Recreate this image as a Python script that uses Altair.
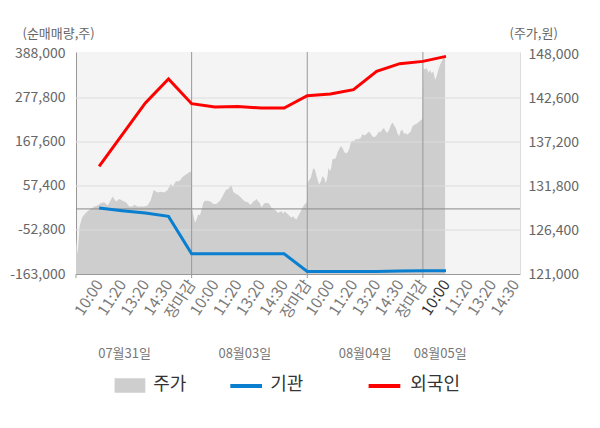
import altair as alt
import pandas as pd

# ---------------- data ----------------
price_t = [0.000,0.014,0.031,0.052,0.072,0.100,0.130,0.158,0.187,0.216,
           0.245,0.273,0.303,0.316,0.346,0.374,0.403,0.432,0.461,0.489,
           0.504,0.532,0.562,0.590,0.619,0.648,0.671,0.705,0.735,0.763,
           0.792,0.821,0.835,0.864,0.893,0.921,0.951,0.979,0.995,
           1.005,1.014,1.029,1.042,1.057,1.072,1.086,1.100,1.115,1.143,
           1.172,1.187,1.215,1.230,1.245,1.258,1.273,1.288,1.302,1.316,
           1.331,1.345,1.360,1.374,1.403,1.417,1.431,1.461,1.489,1.504,
           1.518,1.532,1.547,1.561,1.576,1.590,1.604,1.619,1.634,1.662,
           1.677,1.691,1.720,1.734,1.748,1.763,1.777,1.792,1.806,1.820,
           1.835,1.850,1.863,1.878,1.893,1.907,1.921,1.936,1.950,1.965,
           1.979,1.995,
           2.005,2.016,2.031,2.045,2.054,2.066,2.074,2.088,2.103,2.118,
           2.131,2.146,2.161,2.175,2.183,2.198,2.209,2.218,2.247,2.261,
           2.276,2.290,2.304,2.319,2.334,2.347,2.362,2.377,2.391,2.405,
           2.420,2.434,2.463,2.477,2.492,2.506,2.520,2.535,2.550,2.564,
           2.578,2.593,2.607,2.621,2.636,2.650,2.665,2.679,2.693,2.708,
           2.723,2.736,2.751,2.766,2.780,2.794,2.809,2.823,2.838,2.852,
           2.866,2.881,2.895,2.909,2.924,2.939,2.952,2.967,2.982,2.995,
           3.005,3.019,3.034,3.048,3.062,3.077,3.091,3.105,3.120,3.134,
           3.149,3.163,3.177,3.192]

price_v = [125500,123400,126800,127900,128300,128700,129000,129300,129400,129700,
           129800,129400,130100,130500,129900,130200,130000,129800,129300,129300,
           129500,129300,129300,129300,129400,130100,131300,131000,131100,131000,
           131300,132100,131700,132400,132400,132900,133200,133500,133600,
           128900,128300,127300,127700,128300,128200,128900,129700,130000,130000,
           129800,129600,129600,129800,130000,130300,130700,131100,131400,131400,
           131700,131900,131100,130900,130700,130500,130300,129900,129800,129500,
           129600,129900,130000,130200,129900,129700,129200,129500,129700,129700,
           129500,129100,128900,128700,128500,128600,128700,128400,128700,128500,
           128300,128100,127900,128100,127800,127700,128100,128500,128900,129300,
           129600,129700,
           132200,132500,132800,133600,134000,133800,133400,132600,132000,132400,
           133000,132800,132100,133000,134000,133600,134200,135100,135200,135900,
           136300,136700,136500,136000,135800,135900,136300,137100,137400,137300,
           137600,137500,137700,138200,138000,138100,138300,138500,138200,137900,
           137800,137900,138200,138500,138400,138800,138900,138500,138300,138700,
           139300,139600,139300,138900,138300,137900,138600,138700,138200,138300,
           138100,138300,138500,139100,139300,139400,139500,139700,139900,140000,
           146300,146100,146300,145700,146000,145600,145900,144800,145300,146100,
           146700,147100,147500,147800]

flow_t = [0.2, 0.4, 0.6, 0.8, 1.0, 1.2, 1.4, 1.6, 1.8, 2.0, 2.2, 2.4, 2.6, 2.8, 3.0, 3.2]
foreign_v = [106500, 185900, 265300, 325400, 263500, 255300, 256800, 252800,
             252800, 283600, 287800, 298600, 344400, 363700, 369500, 382000]
inst_v = [2300, -4500, -10200, -18700, -112500, -112500, -112500, -112500,
          -112500, -156500, -156500, -156500, -156500, -155500, -154700, -154700]

left_ticks = [388000, 277800, 167600, 57400, -52800, -163000]
right_ticks = [148000, 142600, 137200, 131800, 126400, 121000]
time_labels = ["10:00", "11:20", "13:20", "14:30", "장마감"]
dates = ["07월31일", "08월03일", "08월04일", "08월05일"]
date_pos = [0.42, 1.46, 2.5, 3.15]
day_bounds = [0, 1, 2, 3]
x_max = 3.84
left_dom = [-163000, 393000]
right_dom = [121000, 148250]
series = ["기관", "외국인"]
series_colors = ["#0a7fcf", "#ff0000"]
legend_labels = ["주가", "기관", "외국인"]
price_color = "#cecece"

FONT = "Noto Sans CJK KR"

# ---------------- frames ----------------
price_df = pd.DataFrame({"t": price_t, "price": price_v})
flow_df = pd.DataFrame({"t": flow_t, series[0]: inst_v, series[1]: foreign_v})

xtick_vals = [round(d + k / 5, 3) for d in day_bounds for k in range(1, 6) if d + k / 5 <= x_max]
label_arr = "[" + ",".join(f"'{s}'" for s in time_labels) + "]"
num_expr = "replace(format(datum.value, ','), '−', '-')"

x_scale = alt.Scale(domain=[0, x_max], nice=False, zero=False)
yl_scale = alt.Scale(domain=left_dom, nice=False, zero=False)
yr_scale = alt.Scale(domain=right_dom, nice=False, zero=False)

x_axis = alt.Axis(
    values=xtick_vals,
    labelExpr=f"{label_arr}[(round(datum.value*5)+4)%5]",
    labelAngle=303, labelAlign="right", labelBaseline="middle",
    labelFontSize=15.5, labelPadding=7, labelOverlap=False,
    labelColor={"condition": [
        {"test": "datum.label == '장마감'", "value": "#ff0000"},
        {"test": "abs(datum.value - 3.2) < 0.001", "value": "#333333"}],
        "value": "#7a7a7a"},
    ticks=False, grid=False, domainColor="#999999", title=None,
)

yl_axis = alt.Axis(orient="left", values=left_ticks, labelExpr=num_expr,
                   grid=False, ticks=False, domainColor="#999999",
                   labelColor="#666666", labelFontSize=14, labelPadding=11,
                   title="(순매매량,주)", titleAngle=0, titleAlign="left",
                   titleBaseline="middle", titleX=-54, titleY=-19,
                   titleFontSize=13, titleColor="#666666",
                   titleFontWeight="normal")

yr_axis = alt.Axis(orient="right", values=right_ticks, labelExpr=num_expr,
                   grid=False, ticks=False, domainColor="#dddddd",
                   labelColor="#666666", labelFontSize=14, labelPadding=8,
                   title="(주가,원)", titleAngle=0, titleAlign="left",
                   titleBaseline="middle", titleX=-11, titleY=-19,
                   titleFontSize=13, titleColor="#666666",
                   titleFontWeight="normal")


def X(field):
    return alt.X(field, scale=x_scale, axis=x_axis)


def YL(field):
    return alt.Y(field, scale=yl_scale, axis=yl_axis)


area = alt.Chart(price_df).mark_area(color=price_color, clip=True).encode(
    x=X("t:Q"),
    y=alt.Y("price:Q", scale=yr_scale, axis=yr_axis),
)

grid = alt.Chart(pd.DataFrame({"v": left_ticks[1:-1]})).mark_rule(
    color="#dcdcdc", strokeWidth=1).encode(y=YL("v:Q"))

zero = alt.Chart(pd.DataFrame({"v": [0]})).mark_rule(
    color="#8a8a8a", strokeWidth=1).encode(y=YL("v:Q"))

seps = alt.Chart(pd.DataFrame({"d": day_bounds[1:]})).mark_rule(
    color="#999999", strokeWidth=1).encode(x=X("d:Q"))

tickmarks = alt.Chart(pd.DataFrame({"d": day_bounds})).mark_rule(
    color="#999999", strokeWidth=1).encode(
    x=X("d:Q"), y=alt.value(222), y2=alt.value(226))

lines = alt.Chart(flow_df).transform_fold(series, as_=["series", "value"]).mark_line(
    strokeWidth=3, clip=True).encode(
    x=X("t:Q"),
    y=YL("value:Q"),
    color=alt.Color("series:N", scale=alt.Scale(domain=series, range=series_colors),
                    legend=None),
)

date_text = alt.Chart(pd.DataFrame({"label": dates, "x": date_pos})).mark_text(
    fontSize=13, color="#777777", baseline="middle").encode(
    x=X("x:Q"), y=alt.value(302), text="label:N")

# legend
leg_rect = alt.Chart(pd.DataFrame({"k": [legend_labels[0]]})).mark_rect(
    color=price_color).encode(
    x=alt.value(38.6), x2=alt.value(69.3), y=alt.value(326.3), y2=alt.value(340.7))
leg_blue = alt.Chart(pd.DataFrame({"k": [legend_labels[1]]})).mark_rule(
    color=series_colors[0], strokeWidth=4).encode(
    x=alt.value(154.3), x2=alt.value(186), y=alt.value(334))
leg_red = alt.Chart(pd.DataFrame({"k": [legend_labels[2]]})).mark_rule(
    color=series_colors[1], strokeWidth=4).encode(
    x=alt.value(292.6), x2=alt.value(324.3), y=alt.value(334))


def leg_text(label, xpos):
    return alt.Chart(pd.DataFrame({"k": [label]})).mark_text(
        align="left", baseline="middle", fontSize=18, color="#333333").encode(
        x=alt.value(xpos), y=alt.value(333), text="k:N")


inner = alt.layer(grid, zero, seps, tickmarks, lines, date_text,
                  leg_rect, leg_blue, leg_red,
                  leg_text(legend_labels[0], 77.3),
                  leg_text(legend_labels[1], 194.3),
                  leg_text(legend_labels[2], 334.3))

chart = alt.layer(area, inner).resolve_scale(y="independent").properties(
    width=444, height=222,
    autosize=alt.AutoSizeParams(type="none"),
    padding={"left": 68, "top": 44, "right": 72, "bottom": 140},
).configure(font=FONT).configure_view(stroke=None, fill="#f4f4f4")

chart.save("out.html", embed_options={"renderer": "svg", "actions": False})
